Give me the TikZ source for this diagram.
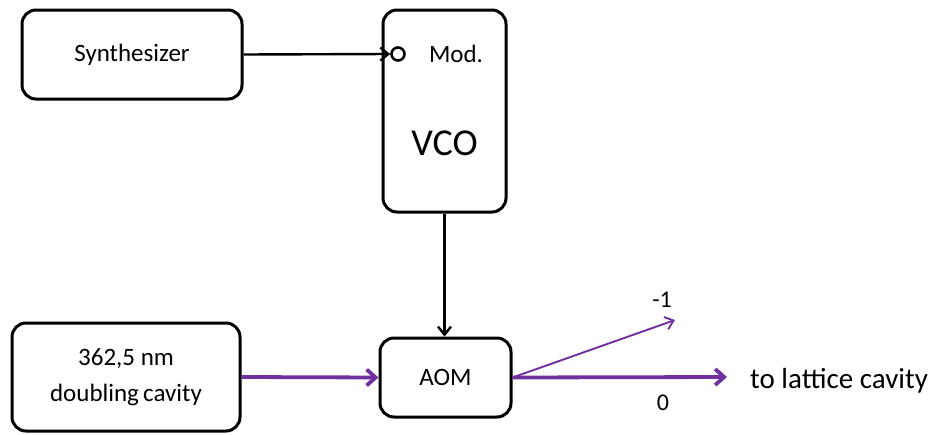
\documentclass[tikz,border=0pt]{standalone}
\usepackage{fontspec}
\setmainfont{Carlito}
\usetikzlibrary{arrows.meta}
\definecolor{beam}{HTML}{7030A0}
\begin{document}
\begin{tikzpicture}[x=1pt,y=-1pt,
  blk/.style={draw,line width=3pt,rounded corners=14pt,inner sep=0pt,font=\fontsize{25}{36}\selectfont,align=center},
  sig/.style={line width=2.4pt,-{Straight Barb[length=8pt,width=13pt,line width=2.4pt]}},
  beamthick/.style={beam,line width=3.8pt,-{Straight Barb[length=9pt,width=16pt,line width=3.8pt]}},
  beamthin/.style={beam,line width=1.9pt,-{Straight Barb[length=8pt,width=13pt,line width=1.9pt]}},
  lbl/.style={font=\fontsize{25}{30}\selectfont,inner sep=0pt}]
\useasboundingbox (0,0) rectangle (932,434);
\node[blk,minimum width=220pt,minimum height=89pt] (syn) at (132,54.5) {Synthesizer};
\node[blk,minimum width=123pt,minimum height=202pt] (vco) at (444.5,111) {};
\node[font=\fontsize{38}{44}\selectfont,inner sep=0pt] (vcot) at (444.5,143) {VCO};
\node[lbl] (mod) at (456,54) {Mod.};
\node[draw,circle,line width=2.6pt,minimum size=13pt,inner sep=0pt] (modin) at (398,54) {};
\node[blk,minimum width=228pt,minimum height=108pt] (src) at (126,377) {362,5 nm\\doubling\,cavity};
\node[blk,minimum width=131pt,minimum height=79pt] (aom) at (445.5,377.5) {AOM};
\coordinate (m1) at (675,320);
\coordinate (z0) at (727,377);
\node[lbl,anchor=west,font=\fontsize{29}{34}\selectfont] (out) at (750,381) {to lattice cavity};
\node[lbl,font=\fontsize{24}{28}\selectfont] (lm1) at (662,300) {-1};
\node[lbl,font=\fontsize{24}{28}\selectfont] (l0) at (663,403) {0};
\draw[sig] (syn.east) -- (modin.west);
\draw[sig] (vco.south) -- (vco.south |- aom.north);
\draw[beamthick] (src.east) -- (aom.west);
\draw[beamthick] (aom.east) -- (z0);
\draw[beamthin] (aom.east) -- (m1);
\end{tikzpicture}
\end{document}
